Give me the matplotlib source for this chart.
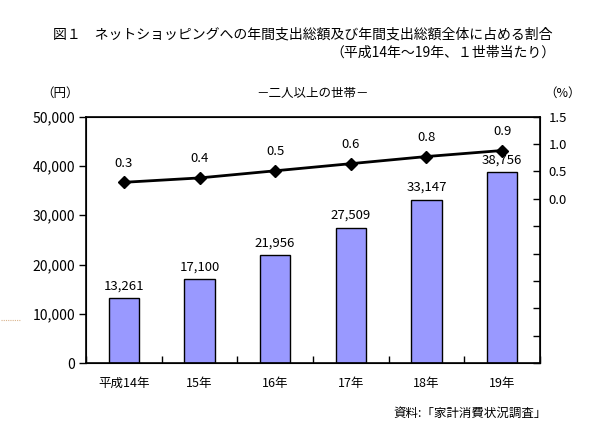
import matplotlib
matplotlib.use("Agg")
import matplotlib.pyplot as plt
from matplotlib.lines import Line2D
import numpy as np

plt.rcParams['font.family'] = ['Noto Sans CJK JP', 'DejaVu Sans']

categories = ["平成14年", "15年", "16年", "17年", "18年", "19年"]
spending = [13261, 17100, 21956, 27509, 33147, 38756]
share = [0.30, 0.38, 0.51, 0.64, 0.77, 0.88]
left_ticks = [0, 10000, 20000, 30000, 40000, 50000]
right_ticks = [-3.0, -2.5, -2.0, -1.5, -1.0, -0.5, 0.0, 0.5, 1.0, 1.5]

fig = plt.figure(figsize=(6.09, 4.22), dpi=100)
ax = fig.add_axes([86/609, 1-363.3/422, (540-86)/609, (363.3-116.5)/422])
x = np.arange(len(categories))

ax.bar(x, spending, width=0.4, color="#9999FF", edgecolor="black", linewidth=1.0, zorder=2)
ax.set_xlim(-0.5, len(categories)-0.5)
ax.set_ylim(0, 50000)
ax.set_yticks(left_ticks)
ax.set_yticklabels([f"{v:,}" for v in left_ticks], fontsize=10)
ax.tick_params(axis='y', direction='out', length=5, width=1, pad=3)
ax.set_xticks(x)
ax.set_xticklabels(categories, fontsize=9)
ax.tick_params(axis='x', which='major', length=0, pad=10)
ax.set_xticks(np.arange(-0.5, len(categories), 1.0), minor=True)
ax.tick_params(axis='x', which='minor', direction='in', length=5, width=1)
for s in ax.spines.values():
    s.set_linewidth(1.2)
for xi, v in zip(x, spending):
    ax.annotate(f"{v:,}", (xi, v), xytext=(0, 4), textcoords='offset points',
                ha='center', va='bottom', fontsize=9.5)

ax2 = ax.twinx()
ax2.set_ylim(-3.0, 1.5)
ax2.set_yticks(right_ticks)
ax2.set_yticklabels([f"{v:.1f}" if v >= 0 else "" for v in right_ticks], fontsize=9.5)
ax2.tick_params(axis='y', direction='in', length=5, width=1, pad=6)
ax2.plot(x, share, color="black", linewidth=2, marker="D", markersize=6, zorder=3)
for xi, v in zip(x, share):
    ax2.annotate(f"{v:.1f}", (xi, v), xytext=(0, 9), textcoords='offset points',
                 ha='center', va='bottom', fontsize=9.5)

fig.text(53/609, 1-35/422, "図１　ネットショッピングへの年間支出総額及び年間支出総額全体に占める割合",
         ha='left', va='center', fontsize=10)
fig.text(555/609, 1-53/422, "（平成14年～19年、１世帯当たり）", ha='right', va='center', fontsize=10)
fig.text(313/609, 1-93/422, "－二人以上の世帯－", ha='center', va='center', fontsize=9)
fig.text(60/609, 1-93/422, "（円）", ha='center', va='center', fontsize=9)
fig.text(563/609, 1-93/422, "（%）", ha='center', va='center', fontsize=9)
fig.text(547/609, 1-413/422, "資料:「家計消費状況調査」", ha='right', va='center', fontsize=9)
fig.add_artist(Line2D([1/609, 20/609], [1-320/422, 1-320/422], color="#D9B38C",
                      linestyle=(0, (1, 1)), linewidth=0.8, transform=fig.transFigure))

fig.savefig("out.png", dpi=100)
